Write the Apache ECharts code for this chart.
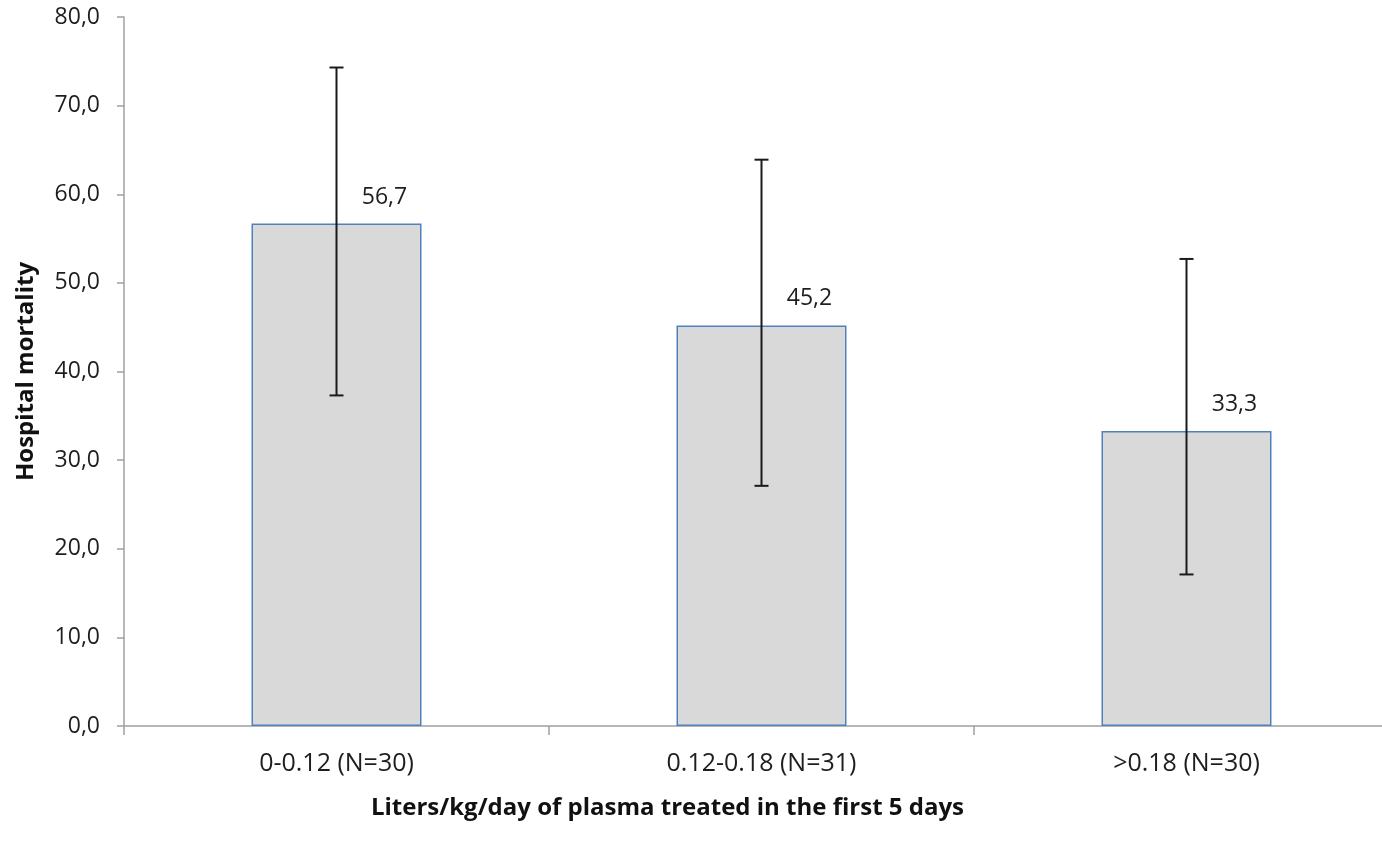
<!DOCTYPE html>
<html>
<head>
<meta charset="utf-8">
<script src="https://cdn.jsdelivr.net/npm/echarts@6/dist/echarts.min.js"></script>
<style>
  html, body { margin: 0; padding: 0; background: #fff; }
  #chart { width: 1382px; height: 843px; }
</style>
</head>
<body>
<div id="chart"></div>
<script>
const categories = ['0-0.12 (N=30)', '0.12-0.18 (N=31)', '>0.18 (N=30)']
const mortality = [56.7, 45.2, 33.3]
const ciLow = [37.3, 27.1, 17.1]
const ciHigh = [74.3, 63.9, 52.7]

const fmt = (v) => v.toFixed(1).replace('.', ',')
const font = 'Open Sans'

const myChart = echarts.init(document.getElementById('chart'))

const option = {
  backgroundColor: '#ffffff',
  animation: false,
  grid: {
    left: 124,
    top: 17,
    width: 1275,
    bottom: 117,
    outerBoundsMode: 'none',
  },
  xAxis: {
    type: 'category',
    data: categories,
    name: 'Liters/kg/day of plasma treated in the first 5 days',
    nameLocation: 'middle',
    nameGap: 70,
    nameTextStyle: {
      fontFamily: font,
      fontWeight: 'bold',
      fontSize: 24,
      color: '#111',
      padding: [0, 188, 0, 0],
    },
    axisLine: { lineStyle: { color: '#a0a0a0', width: 1.5 } },
    axisTick: { show: true, length: 9, lineStyle: { color: '#a0a0a0', width: 1.5 } },
    axisLabel: {
      fontFamily: font,
      fontSize: 25,
      color: '#1e1e1e',
      margin: 25,
    },
  },
  yAxis: {
    type: 'value',
    min: 0,
    max: 80,
    interval: 10,
    name: 'Hospital mortality',
    nameLocation: 'middle',
    nameGap: 86,
    nameTextStyle: {
      fontFamily: font,
      fontWeight: 'bold',
      fontSize: 24,
      color: '#111',
    },
    axisLine: { show: true, lineStyle: { color: '#a0a0a0', width: 1.5 } },
    axisTick: { show: true, length: 7, lineStyle: { color: '#a0a0a0', width: 1.5 } },
    splitLine: { show: false },
    axisLabel: {
      fontFamily: font,
      fontSize: 23,
      color: '#1e1e1e',
      margin: 24,
      formatter: fmt,
    },
  },
  series: [
    {
      type: 'bar',
      data: mortality,
      barWidth: '40%',
      itemStyle: {
        color: '#d9d9d9',
        borderColor: '#4f81bd',
        borderWidth: 1.5,
      },
      label: {
        show: true,
        position: 'top',
        offset: [48, -10],
        fontFamily: font,
        fontSize: 23,
        color: '#1e1e1e',
        formatter: (p) => fmt(p.value),
      },
      z: 2,
    },
    {
      type: 'custom',
      data: categories.map((c, i) => [i, ciLow[i], ciHigh[i]]),
      renderItem: (params, api) => {
        const x = api.value(0)
        const lo = api.coord([x, api.value(1)])
        const hi = api.coord([x, api.value(2)])
        const cap = 7
        const style = { stroke: '#1a1a1a', lineWidth: 2 }
        return {
          type: 'group',
          children: [
            { type: 'line', shape: { x1: lo[0], y1: lo[1], x2: hi[0], y2: hi[1] }, style },
            { type: 'line', shape: { x1: hi[0] - cap, y1: hi[1], x2: hi[0] + cap, y2: hi[1] }, style },
            { type: 'line', shape: { x1: lo[0] - cap, y1: lo[1], x2: lo[0] + cap, y2: lo[1] }, style },
          ],
        }
      },
      z: 3,
    },
  ],
}

myChart.setOption(option)
</script>
</body>
</html>
